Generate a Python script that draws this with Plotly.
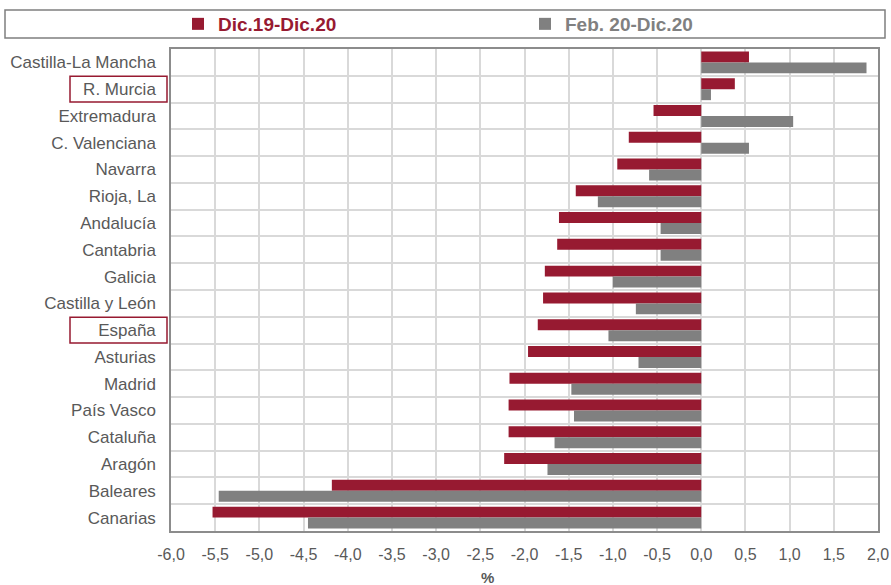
import plotly.graph_objects as go

regions = ["Castilla-La Mancha", "R. Murcia", "Extremadura", "C. Valenciana", "Navarra",
           "Rioja, La", "Andalucía", "Cantabria", "Galicia", "Castilla y León", "España",
           "Asturias", "Madrid", "País Vasco", "Cataluña", "Aragón", "Baleares", "Canarias"]
dic19_dic20 = [0.54, 0.38, -0.54, -0.82, -0.95, -1.42, -1.61, -1.63, -1.77, -1.79, -1.85,
               -1.96, -2.17, -2.18, -2.18, -2.23, -4.18, -5.53]
feb20_dic20 = [1.87, 0.11, 1.04, 0.54, -0.59, -1.17, -0.46, -0.46, -1.00, -0.74, -1.05,
               -0.71, -1.47, -1.44, -1.66, -1.74, -5.46, -4.45]
x_ticks = [-6.0, -5.5, -5.0, -4.5, -4.0, -3.5, -3.0, -2.5, -2.0, -1.5, -1.0, -0.5, 0.0, 0.5, 1.0, 1.5, 2.0]
x_tick_labels = [f"{v:.1f}".replace(".", ",") for v in x_ticks]
highlighted = ["R. Murcia", "España"]

RED = "#971A31"
GRAY = "#808080"
FONT = "Liberation Sans, Arial, sans-serif"

fig = go.Figure()
fig.add_trace(go.Bar(y=regions, x=dic19_dic20, orientation="h", marker=dict(color=RED, line=dict(width=0)),
                     name=f"<b><span style='color:{RED}'>Dic.19-Dic.20</span></b>"))
fig.add_trace(go.Bar(y=regions, x=feb20_dic20, orientation="h", marker=dict(color=GRAY, line=dict(width=0)),
                     name=f"<b><span style='color:{GRAY}'>Feb. 20-Dic.20</span></b>"))

W, H = 891, 585
L, R, T, B = 171, 13, 49, 54
pw, ph = W - L - R, H - T - B

def px_x(p):
    return (p - L) / pw

def px_y(p):
    return (H - B - p) / ph

shapes = [
    # legend frame
    dict(type="rect", xref="paper", yref="paper", x0=px_x(5), x1=px_x(885), y0=px_y(38), y1=px_y(10),
         line=dict(color="#7f7f7f", width=1.5), fillcolor="rgba(0,0,0,0)"),
]
for name in highlighted:
    i = regions.index(name)
    shapes.append(dict(type="rect", xref="paper", yref="y", x0=px_x(70), x1=px_x(167),
                       y0=i - 0.48, y1=i + 0.48, line=dict(color=RED, width=1.5)))

fig.update_layout(
    width=W, height=H,
    margin=dict(l=L, r=R, t=T, b=B, pad=0, autoexpand=False),
    paper_bgcolor="white", plot_bgcolor="white",
    barmode="group", bargap=0.18, bargroupgap=0,
    font=dict(family=FONT, size=15, color="#595959"),
    showlegend=True,
    legend=dict(orientation="h", x=px_x(178), xanchor="left", y=px_y(24), yanchor="middle",
                font=dict(family=FONT, size=19), entrywidth=302, bgcolor="rgba(0,0,0,0)",
                traceorder="normal"),
    shapes=shapes,
    annotations=[dict(text="<b>%</b>", xref="paper", yref="paper", x=px_x(487), y=px_y(577),
                      xanchor="center", yanchor="middle",
                      showarrow=False, font=dict(family=FONT, size=15, color="#595959"))],
    xaxis=dict(range=[-6, 2], tickvals=x_ticks, ticktext=x_tick_labels, showgrid=True,
               gridcolor="#d9d9d9", gridwidth=1.5, zeroline=False, showline=True, mirror=True,
               linecolor="#8c8c8c", linewidth=1.5, ticks="", ticklabelstandoff=8,
               tickfont=dict(family=FONT, size=16, color="#595959")),
    yaxis=dict(type="category", autorange="reversed", tickson="boundaries", showgrid=True,
               gridcolor="#d9d9d9", gridwidth=1.5, showline=True, mirror=True,
               linecolor="#8c8c8c", linewidth=1.5, ticks="", ticklabelstandoff=10,
               tickfont=dict(family=FONT, size=17, color="#595959")),
)

fig.write_html("out.html")
